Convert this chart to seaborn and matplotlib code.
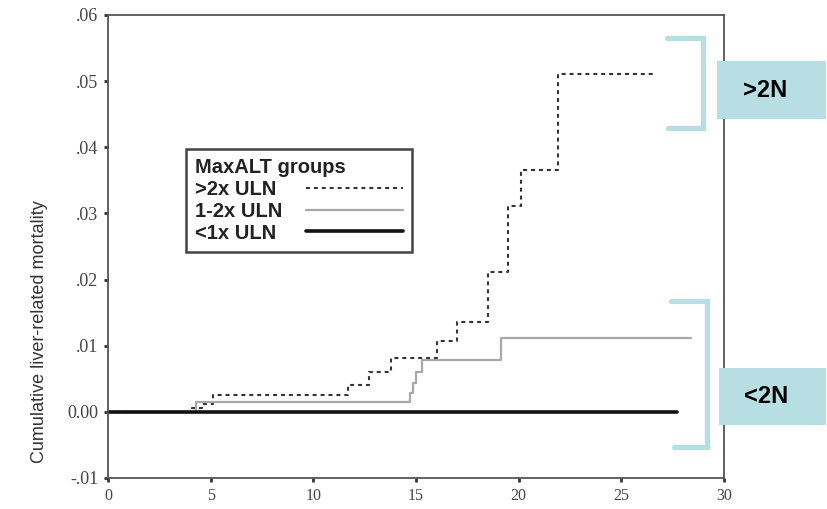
import numpy as np
import pandas as pd
import matplotlib
matplotlib.use("Agg")
import matplotlib.pyplot as plt
from matplotlib.lines import Line2D
from matplotlib.patches import Rectangle
import seaborn as sns

# ---- data ----
groups = [">2x ULN", "1-2x ULN", "<1x ULN"]
time_gt2 = [0, 4.1, 4.6, 5.1, 11.7, 12.7, 13.8, 16.0, 17.0, 18.5, 19.5, 20.1, 21.9, 26.6]
mort_gt2 = [0, 0.0006, 0.0012, 0.0025, 0.0041, 0.0061, 0.0082, 0.0107, 0.0136, 0.0212,
            0.0311, 0.0365, 0.0511, 0.0511]
time_12 = [0, 4.3, 14.7, 14.85, 15.0, 15.3, 16.0, 19.15, 28.4]
mort_12 = [0, 0.0015, 0.0029, 0.0043, 0.0061, 0.0078, 0.0078, 0.0111, 0.0111]
time_lt1 = [0, 27.7]
mort_lt1 = [0, 0]

x_ticks = [0, 5, 10, 15, 20, 25, 30]
y_ticks = [-0.01, 0.0, 0.01, 0.02, 0.03, 0.04, 0.05, 0.06]
y_tick_labels = ["-.01", "0.00", ".01", ".02", ".03", ".04", ".05", ".06"]
annot_labels = [">2N", "<2N"]

sns.set_style("ticks")
plt.rcParams["font.family"] = ["Liberation Sans", "DejaVu Sans"]

W, H = 827, 509
fig = plt.figure(figsize=(W / 100, H / 100), dpi=100)
ax = fig.add_axes([108 / W, 1 - 478 / H, (724 - 108) / W, (478 - 15) / H])

def fx(px):
    return px / W

def fy(py):
    return 1 - py / H

styles = [
    dict(color="#333333", lw=1.5, dashes=(1.9, 1.9)),
    dict(color="#a8a8a8", lw=1.6),
    dict(color="#111111", lw=2.6),
]
for t, m, st, g in zip([time_gt2, time_12, time_lt1], [mort_gt2, mort_12, mort_lt1], styles, groups):
    df = pd.DataFrame({"time": t, "mortality": m})
    sns.lineplot(data=df, x="time", y="mortality", ax=ax, drawstyle="steps-post",
                 estimator=None, color=st["color"], linewidth=st["lw"], legend=False)
    if "dashes" in st:
        ax.lines[-1].set_dashes(st["dashes"])

ax.set_xlim(0, 30)
ax.set_ylim(-0.01, 0.06)
ax.set_xticks(x_ticks)
ax.set_xticklabels([str(v) for v in x_ticks], family="Liberation Serif", fontsize=11.5, color="#444")
ax.set_yticks(y_ticks)
ax.set_yticklabels(y_tick_labels, family="Liberation Serif", fontsize=13, color="#444")
ax.tick_params(axis="both", direction="out", length=3, width=2, color="#333", pad=4)
ax.set_xlabel("")
ax.set_ylabel("")
for s in ax.spines.values():
    s.set_visible(True)
    s.set_color("#555")
    s.set_linewidth(1.3)

# legend
handles = [Line2D([], [], color=st["color"], lw=st["lw"]) for st in styles]
handles[0].set_dashes(styles[0]["dashes"])
leg = fig.legend(handles, groups, title="MaxALT groups", loc="upper left",
                 bbox_to_anchor=(fx(186), fy(149)), borderaxespad=0, markerfirst=False,
                 prop={"weight": "bold", "size": 14.5}, alignment="left",
                 title_fontproperties={"weight": "bold", "size": 14.5},
                 frameon=True, fancybox=False, edgecolor="#444", framealpha=1,
                 handlelength=4.8, handletextpad=0.9, labelspacing=0.14,
                 borderpad=0.45)
leg.get_frame().set_linewidth(1.8)
# labels on the left, line samples flush right (as in the reference)
for col in leg._legend_handle_box.get_children():
    col.align = "left"
    for row in col.get_children():
        row.mode = "expand"
        row.width = 208
for t in leg.get_texts():
    t.set_color("#222")
leg.get_title().set_color("#222")

# y label
fig.text(fx(40), fy(332), "Cumulative liver-related mortality", rotation=90,
         ha="center", va="center", fontsize=13, color="#333")

# annotation brackets and boxes
teal = "#b7dfe3"
brackets = [((667, 38), (703, 38), (703, 128), (668, 128)),
            ((671, 301), (707, 301), (707, 447), (674, 447))]
for pts in brackets:
    xs = [fx(p[0]) for p in pts]
    ys = [fy(p[1]) for p in pts]
    fig.add_artist(Line2D(xs, ys, color=teal, lw=3.8, solid_joinstyle="miter",
                          transform=fig.transFigure))
boxes = [(717, 61, 826, 119), (719, 368, 826, 425)]
for (x0, y0, x1, y1), lab in zip(boxes, annot_labels):
    fig.add_artist(Rectangle((fx(x0), fy(y1)), fx(x1) - fx(x0), fy(y0) - fy(y1),
                             transform=fig.transFigure, facecolor=teal, edgecolor="none",
                             zorder=5))
    fig.text(fx((x0 + x1) / 2 - 6), fy((y0 + y1) / 2), lab, ha="center", va="center",
             fontsize=17, fontweight="bold", color="black", zorder=6)

fig.savefig("out.png", dpi=100)
